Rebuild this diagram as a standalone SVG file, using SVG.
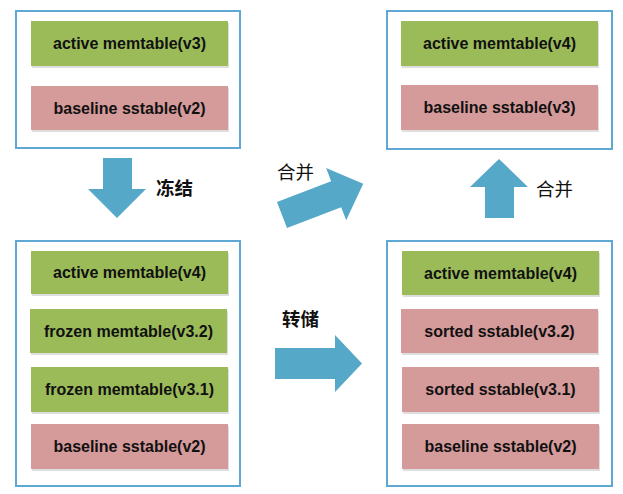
<svg xmlns="http://www.w3.org/2000/svg" width="623" height="494" viewBox="0 0 623 494">
<defs>
<style>
.cont{fill:#ffffff;stroke:#5fa8d3;stroke-width:2}
.g{fill:#9bbb59}
.p{fill:#d59a9a}
.sh{fill:#c8c8c8;opacity:0.6}
.t{font-family:"Liberation Sans",Arial,sans-serif;font-weight:bold;font-size:16px;fill:#111;text-anchor:middle}
.cn{font-family:"Noto Sans CJK SC",sans-serif;font-size:18.5px;fill:#111}
.arr{fill:#55a8c8}
</style>
</defs>
<rect width="623" height="494" fill="#ffffff"/>
<g id="state1">
<rect class="cont" x="16" y="11" width="224" height="137"/>
<g id="s1-active"><rect class="sh" x="32" y="23" width="197" height="45"/><rect class="g" x="31" y="21" width="197" height="45"/><text class="t" x="129.5" y="49">active memtable(v3)</text></g>
<g id="s1-baseline"><rect class="sh" x="32" y="88" width="197" height="44"/><rect class="p" x="31" y="86" width="197" height="44"/><text class="t" x="129.5" y="113.5">baseline sstable(v2)</text></g>
</g>
<g id="state2">
<rect class="cont" x="16" y="241" width="224" height="245"/>
<g id="s2-active"><rect class="sh" x="32" y="253" width="197" height="43"/><rect class="g" x="31" y="251" width="197" height="43"/><text class="t" x="129.5" y="278">active memtable(v4)</text></g>
<g id="s2-frozen2"><rect class="sh" x="31" y="311" width="197" height="44"/><rect class="g" x="30" y="309" width="197" height="44"/><text class="t" x="128.5" y="336.5">frozen memtable(v3.2)</text></g>
<g id="s2-frozen1"><rect class="sh" x="32" y="369" width="197" height="45"/><rect class="g" x="31" y="367" width="197" height="45"/><text class="t" x="129.5" y="395">frozen memtable(v3.1)</text></g>
<g id="s2-baseline"><rect class="sh" x="32" y="426" width="197" height="45"/><rect class="p" x="31" y="424" width="197" height="45"/><text class="t" x="129.5" y="452">baseline sstable(v2)</text></g>
</g>
<g id="state3">
<rect class="cont" x="387" y="11" width="225" height="138"/>
<g id="s3-active"><rect class="sh" x="402" y="23" width="197" height="45"/><rect class="g" x="401" y="21" width="197" height="45"/><text class="t" x="499.5" y="49">active memtable(v4)</text></g>
<g id="s3-baseline"><rect class="sh" x="402" y="87" width="197" height="45"/><rect class="p" x="401" y="85" width="197" height="45"/><text class="t" x="499.5" y="113">baseline sstable(v3)</text></g>
</g>
<g id="state4">
<rect class="cont" x="387" y="241" width="225" height="245"/>
<g id="s4-active"><rect class="sh" x="403" y="253" width="197" height="44"/><rect class="g" x="402" y="251" width="197" height="44"/><text class="t" x="500.5" y="278.5">active memtable(v4)</text></g>
<g id="s4-sorted2"><rect class="sh" x="402" y="311" width="197" height="44"/><rect class="p" x="401" y="309" width="197" height="44"/><text class="t" x="499.5" y="336.5">sorted sstable(v3.2)</text></g>
<g id="s4-sorted1"><rect class="sh" x="403" y="369" width="197" height="45"/><rect class="p" x="402" y="367" width="197" height="45"/><text class="t" x="500.5" y="395">sorted sstable(v3.1)</text></g>
<g id="s4-baseline"><rect class="sh" x="403" y="426" width="197" height="45"/><rect class="p" x="402" y="424" width="197" height="45"/><text class="t" x="500.5" y="452">baseline sstable(v2)</text></g>
</g>
<g id="connectors">
<g id="freeze"><polygon class="arr" points="103,158 132,158 132,189 146,189 117,218 88,189 103,189"/><text class="cn" x="156" y="195" font-weight="bold">冻结</text></g>
<g id="merge-diag"><polygon class="arr" points="0,-14 58,-14 58,-28 87,0 58,28 58,14 0,14" transform="translate(282,215) rotate(-21)"/><text class="cn" x="277" y="179">合并</text></g>
<g id="dump"><polygon class="arr" points="275,348 335,348 335,335 362,363.5 335,392 335,379 275,379"/><text class="cn" x="282" y="326" font-weight="bold">转储</text></g>
<g id="merge-up"><polygon class="arr" points="485,218 485,187 470,187 499,159 528,187 514,187 514,218"/><text class="cn" x="536" y="196">合并</text></g>
</g>
</svg>
